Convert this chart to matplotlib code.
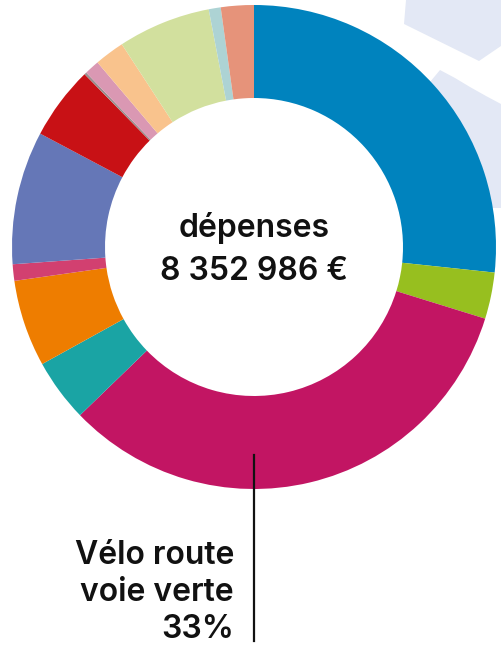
import matplotlib
matplotlib.use('Agg')
import matplotlib.pyplot as plt
from matplotlib.patches import Polygon

# parts of the spending, clockwise from 12 o'clock (in %)
postes = ['poste 1', 'poste 2', 'Vélo route voie verte', 'poste 4', 'poste 5',
          'poste 6', 'poste 7', 'poste 8', 'poste 9', 'poste 10', 'poste 11',
          'poste 12', 'poste 13', 'poste 14']
parts = [26.7, 3.1, 33.0, 4.2, 5.8, 1.1, 8.9, 4.9, 0.15, 1.0, 2.0, 6.2, 0.8, 2.2]
couleurs = ['#0083BE', '#97BF1F', '#C21563', '#1AA4A4', '#EE7D00', '#D24070',
            '#6577B7', '#C81115', '#9A8F8F', '#DA98B3', '#F9C38D', '#D2E09E',
            '#ADD3D4', '#E6937A']
total = '8 352 986 €'
label_lines = ['Vélo route', 'voie verte', '33%']

W, H = 501, 645
plt.rcParams['font.family'] = ['Inter', 'DejaVu Sans']

fig = plt.figure(figsize=(W / 100, H / 100), dpi=100)
ax = fig.add_axes([0, 0, 1, 1])

# pale background shapes (top right)
bg = '#E3E8F5'
ax.add_patch(Polygon([(406, H), (404, H - 24), (479, H - 61), (501, H - 46), (501, H)],
                     closed=True, fc=bg, ec='none', zorder=0))
ax.add_patch(Polygon([(440, H - 70), (455, H - 78), (470, H - 87), (486, H - 96), (501, H - 104),
                      (501, H - 208), (430, H - 208), (430, H - 82)],
                     closed=True, fc=bg, ec='none', zorder=0))

cx, cy, r = 254, H - 247, 242
ax.pie(parts, colors=couleurs, startangle=90, counterclock=False,
       radius=r, center=(cx, cy),
       wedgeprops=dict(width=93, linewidth=0))

ax.text(cx, H - 237, 'dépenses', ha='center', va='baseline',
        fontsize=23, fontweight='semibold', color='#111111')
ax.text(cx, H - 280, total, ha='center', va='baseline',
        fontsize=23, fontweight='semibold', color='#111111')

# leader line + label
ax.plot([254, 254], [H - 455, H - 641], color='#111111', lw=1.6)
for txt, yb in zip(label_lines, [564, 601, 638]):
    ax.text(234, H - yb, txt, ha='right', va='baseline',
            fontsize=23, fontweight='semibold', color='#111111')

ax.set_xlim(0, W)
ax.set_ylim(0, H)
ax.set_aspect('equal')
ax.axis('off')

plt.savefig('out.png', dpi=100)
